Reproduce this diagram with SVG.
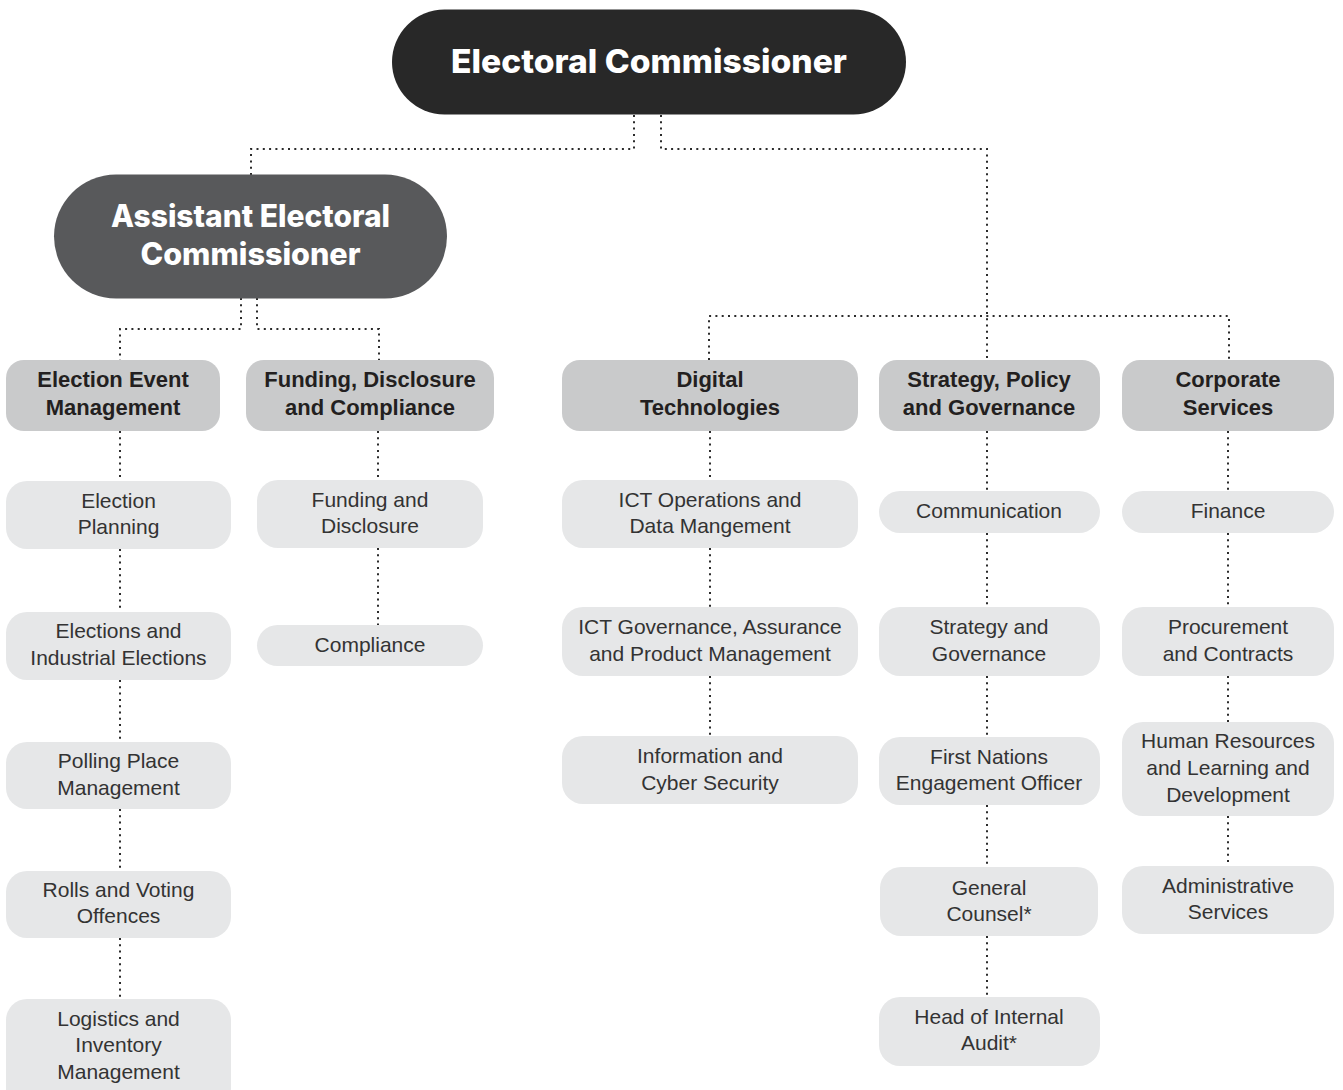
<svg xmlns="http://www.w3.org/2000/svg" width="1343" height="1090" viewBox="0 0 1343 1090">
<style>
.dot{fill:none;stroke:#2b2b2b;stroke-width:2;stroke-dasharray:2 4.3}
.top{fill:#282828}
.aec{fill:#58595b}
.hd{fill:#c9cacb}
.ch{fill:#e6e7e8}
.tt{font-family:Inter,"Liberation Sans",sans-serif;font-weight:800;fill:#fff;text-anchor:middle}
.ht{font-family:"Liberation Sans",Arial,sans-serif;font-weight:700;font-size:22px;fill:#231f20;text-anchor:middle}
.ct{font-family:"Liberation Sans",Arial,sans-serif;font-size:21px;fill:#333;text-anchor:middle}
</style>
<rect width="1343" height="1090" fill="#fff"/>
<g id="connectors">
<path class="dot" d="M634 115V149H251V175"/>
<path class="dot" d="M661 115V149H987V360"/>
<path class="dot" d="M709 360V316H1229V360"/>
<path class="dot" d="M241 298V329H120V360"/>
<path class="dot" d="M257 298V329H379V360"/>
<path class="dot" d="M120 431V481M120 549V612M120 680V742M120 809V871M120 938V999"/>
<path class="dot" d="M378 431V480M378 548V625"/>
<path class="dot" d="M710 431V480M710 548V607M710 676V736"/>
<path class="dot" d="M987 431V491M987 533V607M987 676V737M987 805V867M987 936V997"/>
<path class="dot" d="M1228 431V491M1228 533V607M1228 676V722M1228 816V866"/>
</g>
<g id="electoral-commissioner">
<rect class="top" x="392" y="9.5" width="514" height="105" rx="52.5"/>
<text class="tt" x="649" y="73" font-size="33" textLength="396" lengthAdjust="spacingAndGlyphs">Electoral Commissioner</text>
</g>
<g id="assistant-electoral-commissioner">
<rect class="aec" x="54" y="174.5" width="393" height="124" rx="62"/>
<text class="tt" x="250.5" y="227" font-size="31" textLength="279" lengthAdjust="spacingAndGlyphs">Assistant Electoral</text>
<text class="tt" x="250.5" y="265" font-size="31" textLength="220" lengthAdjust="spacingAndGlyphs">Commissioner</text>
</g>
<g id="election-event-management">
<rect class="hd" x="6" y="360" width="214" height="71" rx="18"/>
<text class="ht" x="113" y="387">Election Event</text>
<text class="ht" x="113" y="415">Management</text>
</g>
<g id="funding-disclosure-compliance">
<rect class="hd" x="246" y="360" width="248" height="71" rx="18"/>
<text class="ht" x="370" y="387">Funding, Disclosure</text>
<text class="ht" x="370" y="415">and Compliance</text>
</g>
<g id="digital-technologies">
<rect class="hd" x="562" y="360" width="296" height="71" rx="18"/>
<text class="ht" x="710" y="387">Digital</text>
<text class="ht" x="710" y="415">Technologies</text>
</g>
<g id="strategy-policy-governance">
<rect class="hd" x="879" y="360" width="221" height="71" rx="18"/>
<text class="ht" x="989" y="387">Strategy, Policy</text>
<text class="ht" x="989" y="415">and Governance</text>
</g>
<g id="corporate-services">
<rect class="hd" x="1122" y="360" width="212" height="71" rx="18"/>
<text class="ht" x="1228" y="387">Corporate</text>
<text class="ht" x="1228" y="415">Services</text>
</g>
<g id="election-planning">
<rect class="ch" x="6" y="481" width="225" height="68" rx="21"/>
<text class="ct" x="118.5" y="508">Election</text>
<text class="ct" x="118.5" y="534">Planning</text>
</g>
<g id="elections-industrial">
<rect class="ch" x="6" y="612" width="225" height="68" rx="21"/>
<text class="ct" x="118.5" y="638">Elections and</text>
<text class="ct" x="118.5" y="665">Industrial Elections</text>
</g>
<g id="polling-place">
<rect class="ch" x="6" y="742" width="225" height="67" rx="21"/>
<text class="ct" x="118.5" y="768">Polling Place</text>
<text class="ct" x="118.5" y="795">Management</text>
</g>
<g id="rolls-voting">
<rect class="ch" x="6" y="871" width="225" height="67" rx="21"/>
<text class="ct" x="118.5" y="897">Rolls and Voting</text>
<text class="ct" x="118.5" y="923">Offences</text>
</g>
<g id="logistics-inventory">
<rect class="ch" x="6" y="999" width="225" height="110" rx="21"/>
<text class="ct" x="118.5" y="1026">Logistics and</text>
<text class="ct" x="118.5" y="1052">Inventory</text>
<text class="ct" x="118.5" y="1079">Management</text>
</g>
<g id="funding-and-disclosure">
<rect class="ch" x="257" y="480" width="226" height="68" rx="21"/>
<text class="ct" x="370" y="507">Funding and</text>
<text class="ct" x="370" y="533">Disclosure</text>
</g>
<g id="compliance">
<rect class="ch" x="257" y="625" width="226" height="41" rx="20.5"/>
<text class="ct" x="370" y="652">Compliance</text>
</g>
<g id="ict-operations">
<rect class="ch" x="562" y="480" width="296" height="68" rx="21"/>
<text class="ct" x="710" y="507">ICT Operations and</text>
<text class="ct" x="710" y="533">Data Mangement</text>
</g>
<g id="ict-governance">
<rect class="ch" x="562" y="607" width="296" height="69" rx="21"/>
<text class="ct" x="710" y="634">ICT Governance, Assurance</text>
<text class="ct" x="710" y="661">and Product Management</text>
</g>
<g id="information-cyber">
<rect class="ch" x="562" y="736" width="296" height="68" rx="21"/>
<text class="ct" x="710" y="763">Information and</text>
<text class="ct" x="710" y="790">Cyber Security</text>
</g>
<g id="communication">
<rect class="ch" x="879" y="491" width="221" height="42" rx="21"/>
<text class="ct" x="989" y="518">Communication</text>
</g>
<g id="strategy-and-governance">
<rect class="ch" x="879" y="607" width="221" height="69" rx="21"/>
<text class="ct" x="989" y="634">Strategy and</text>
<text class="ct" x="989" y="661">Governance</text>
</g>
<g id="first-nations">
<rect class="ch" x="879" y="737" width="221" height="68" rx="21"/>
<text class="ct" x="989" y="764">First Nations</text>
<text class="ct" x="989" y="790">Engagement Officer</text>
</g>
<g id="general-counsel">
<rect class="ch" x="880" y="867" width="218" height="69" rx="21"/>
<text class="ct" x="989" y="895">General</text>
<text class="ct" x="989" y="921">Counsel*</text>
</g>
<g id="head-internal-audit">
<rect class="ch" x="879" y="997" width="221" height="69" rx="21"/>
<text class="ct" x="989" y="1024">Head of Internal</text>
<text class="ct" x="989" y="1050">Audit*</text>
</g>
<g id="finance">
<rect class="ch" x="1122" y="491" width="212" height="42" rx="21"/>
<text class="ct" x="1228" y="518">Finance</text>
</g>
<g id="procurement">
<rect class="ch" x="1122" y="607" width="212" height="69" rx="21"/>
<text class="ct" x="1228" y="634">Procurement</text>
<text class="ct" x="1228" y="661">and Contracts</text>
</g>
<g id="human-resources">
<rect class="ch" x="1122" y="722" width="212" height="94" rx="21"/>
<text class="ct" x="1228" y="748">Human Resources</text>
<text class="ct" x="1228" y="775">and Learning and</text>
<text class="ct" x="1228" y="802">Development</text>
</g>
<g id="administrative-services">
<rect class="ch" x="1122" y="866" width="212" height="68" rx="21"/>
<text class="ct" x="1228" y="893">Administrative</text>
<text class="ct" x="1228" y="919">Services</text>
</g>
</svg>
